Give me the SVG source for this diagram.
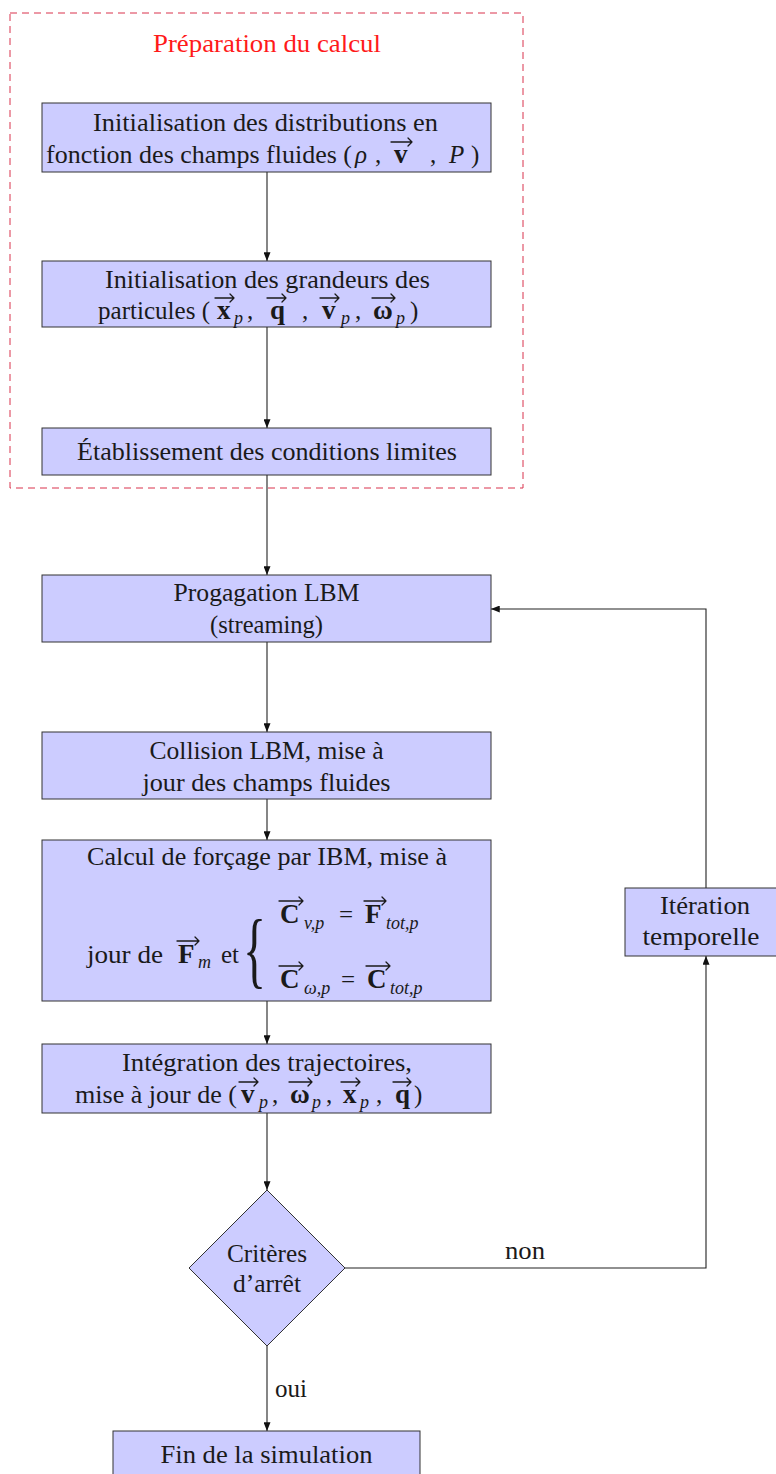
<svg xmlns="http://www.w3.org/2000/svg" width="776" height="1474" viewBox="0 0 776 1474">
<style>
.box{fill:#ccccff;stroke:#333;stroke-width:1}
.t{font-family:"Liberation Serif","DejaVu Serif",serif;font-size:25px;fill:#1a1a1a}
.c{text-anchor:middle}
.e{text-anchor:end}
.b{font-weight:bold;font-size:27px}
.i{font-style:italic}
.s{font-size:18px;font-style:italic}
.vec{fill:none;stroke:#1a1a1a;stroke-width:1.3;stroke-linejoin:round;stroke-linecap:round}
.conn{fill:none;stroke:#222;stroke-width:1.1;marker-end:url(#ah)}
.frame{fill:none;stroke:#d9334d;stroke-width:1;stroke-dasharray:7 5}
.red{fill:#ff1a1a}
</style>
<defs>
<marker id="ah" viewBox="0 0 10 8" refX="10" refY="4" markerWidth="9" markerHeight="7" markerUnits="userSpaceOnUse" orient="auto"><path d="M0,0 L10,4 L0,8 Z" fill="#111"/></marker>
</defs>
<rect width="776" height="1474" fill="#ffffff"/>

<g id="preparation">
<rect class="frame" x="10" y="13" width="513" height="475"/>
<text class="t c red" x="267" y="52" textLength="228" lengthAdjust="spacingAndGlyphs">Préparation du calcul</text>
</g>

<g id="connectors">
<path class="conn" d="M267,172 V261"/>
<path class="conn" d="M267,327 V428"/>
<path class="conn" d="M267,475 V575"/>
<path class="conn" d="M267,642 V732"/>
<path class="conn" d="M267,799 V840"/>
<path class="conn" d="M267,1001 V1044"/>
<path class="conn" d="M267,1113 V1190"/>
<path class="conn" d="M267,1346 V1431"/>
<path class="conn" d="M345,1268 H706 V956"/>
<path class="conn" d="M706,888 V609 H491"/>
<text class="t c" x="525" y="1259" textLength="40" lengthAdjust="spacingAndGlyphs">non</text>
<text class="t" x="275" y="1397" textLength="32" lengthAdjust="spacingAndGlyphs">oui</text>
</g>

<g id="init-distributions">
<rect class="box" x="42" y="103" width="449" height="69"/>
<text class="t" x="93" y="131" textLength="345" lengthAdjust="spacingAndGlyphs">Initialisation des distributions en</text>
<text class="t" x="46" y="163" textLength="306" lengthAdjust="spacingAndGlyphs">fonction des champs fluides (</text>
<text class="t i" x="355" y="163">ρ</text>
<text class="t" x="375" y="163">,</text>
<text class="t b" x="394" y="163">v</text>
<path class="vec" d="M391,142 H412 M408,138 L412,142 L408,146"/>
<text class="t" x="430" y="163">,</text>
<text class="t i" x="449" y="163">P</text>
<text class="t" x="471" y="163">)</text>
</g>

<g id="init-particules">
<rect class="box" x="42" y="261" width="449" height="66"/>
<text class="t" x="105" y="288" textLength="325" lengthAdjust="spacingAndGlyphs">Initialisation des grandeurs des</text>
<text class="t" x="98" y="319" textLength="112" lengthAdjust="spacingAndGlyphs">particules (</text>
<text class="t b" x="217" y="319">x</text>
<path class="vec" d="M215,298 H234 M230,294 L234,298 L230,302"/>
<text class="t s" x="234" y="324">p</text>
<text class="t" x="247" y="319">,</text>
<text class="t b" x="270" y="319">q</text>
<path class="vec" d="M267,298 H286 M282,294 L286,298 L282,302"/>
<text class="t" x="302" y="319">,</text>
<text class="t b" x="322" y="319">v</text>
<path class="vec" d="M320,298 H339 M335,294 L339,298 L335,302"/>
<text class="t s" x="341" y="324">p</text>
<text class="t" x="355" y="319">,</text>
<text class="t b" x="373" y="319">ω</text>
<path class="vec" d="M372,298 H395 M391,294 L395,298 L391,302"/>
<text class="t s" x="396" y="324">p</text>
<text class="t" x="410" y="319">)</text>
</g>

<g id="conditions-limites">
<rect class="box" x="42" y="428" width="449" height="47"/>
<text class="t" x="77" y="460" textLength="380" lengthAdjust="spacingAndGlyphs">Établissement des conditions limites</text>
</g>

<g id="propagation">
<rect class="box" x="42" y="575" width="449" height="67"/>
<text class="t c" x="266.5" y="601" textLength="186" lengthAdjust="spacingAndGlyphs">Progagation LBM</text>
<text class="t c" x="266.5" y="633" textLength="113" lengthAdjust="spacingAndGlyphs">(streaming)</text>
</g>

<g id="collision">
<rect class="box" x="42" y="732" width="449" height="67"/>
<text class="t c" x="266.5" y="759" textLength="234" lengthAdjust="spacingAndGlyphs">Collision LBM, mise à</text>
<text class="t c" x="266.5" y="791" textLength="248" lengthAdjust="spacingAndGlyphs">jour des champs fluides</text>
</g>

<g id="forcage">
<rect class="box" x="42" y="840" width="449" height="161"/>
<text class="t" x="87" y="865" textLength="360" lengthAdjust="spacingAndGlyphs">Calcul de forçage par IBM, mise à</text>
<text class="t" x="87" y="963" textLength="76" lengthAdjust="spacingAndGlyphs">jour de</text>
<text class="t b" x="178" y="963">F</text>
<path class="vec" d="M177,941 H199 M195,937 L199,941 L195,945"/>
<text class="t s" x="198" y="968">m</text>
<text class="t" x="221" y="963">et</text>
<text class="t" transform="translate(243,978) scale(1.6,2.85)" x="0" y="0" style="font-size:30px">{</text>
<text class="t b" x="280" y="923">C</text>
<path class="vec" d="M279,901 H303 M299,897 L303,901 L299,905"/>
<text class="t s" x="304" y="929">v,p</text>
<text class="t" x="339" y="923">=</text>
<text class="t b" x="365" y="923">F</text>
<path class="vec" d="M364,901 H386 M382,897 L386,901 L382,905"/>
<text class="t s" x="386" y="929">tot,p</text>
<text class="t b" x="280" y="988">C</text>
<path class="vec" d="M279,966 H303 M299,962 L303,966 L299,970"/>
<text class="t s" x="304" y="994">ω,p</text>
<text class="t" x="341" y="988">=</text>
<text class="t b" x="367" y="988">C</text>
<path class="vec" d="M366,966 H390 M386,962 L390,966 L386,970"/>
<text class="t s" x="390" y="994">tot,p</text>
</g>

<g id="integration">
<rect class="box" x="42" y="1044" width="449" height="69"/>
<text class="t" x="122" y="1071" textLength="290" lengthAdjust="spacingAndGlyphs">Intégration des trajectoires,</text>
<text class="t" x="75" y="1103" textLength="162" lengthAdjust="spacingAndGlyphs">mise à jour de (</text>
<text class="t b" x="241" y="1103">v</text>
<path class="vec" d="M239,1082 H258 M254,1078 L258,1082 L254,1086"/>
<text class="t s" x="259" y="1108">p</text>
<text class="t" x="272" y="1103">,</text>
<text class="t b" x="290" y="1103">ω</text>
<path class="vec" d="M289,1082 H312 M308,1078 L312,1082 L308,1086"/>
<text class="t s" x="312" y="1108">p</text>
<text class="t" x="326" y="1103">,</text>
<text class="t b" x="343" y="1103">x</text>
<path class="vec" d="M341,1082 H360 M356,1078 L360,1082 L356,1086"/>
<text class="t s" x="360" y="1108">p</text>
<text class="t" x="376" y="1103">,</text>
<text class="t b" x="395" y="1103">q</text>
<path class="vec" d="M393,1082 H411 M407,1078 L411,1082 L407,1086"/>
<text class="t" x="414" y="1103">)</text>
</g>

<g id="criteres">
<path class="box" d="M267,1190 L345,1268 L267,1346 L189,1268 Z"/>
<text class="t c" x="267" y="1262" textLength="80" lengthAdjust="spacingAndGlyphs">Critères</text>
<text class="t c" x="267" y="1292" textLength="68" lengthAdjust="spacingAndGlyphs">d’arrêt</text>
</g>

<g id="iteration">
<rect class="box" x="625" y="888" width="152" height="68"/>
<text class="t c" x="705" y="914" textLength="90" lengthAdjust="spacingAndGlyphs">Itération</text>
<text class="t c" x="701" y="945" textLength="117" lengthAdjust="spacingAndGlyphs">temporelle</text>
</g>

<g id="fin">
<rect class="box" x="113" y="1431" width="307" height="50"/>
<text class="t c" x="266.5" y="1463" textLength="212" lengthAdjust="spacingAndGlyphs">Fin de la simulation</text>
</g>
</svg>
